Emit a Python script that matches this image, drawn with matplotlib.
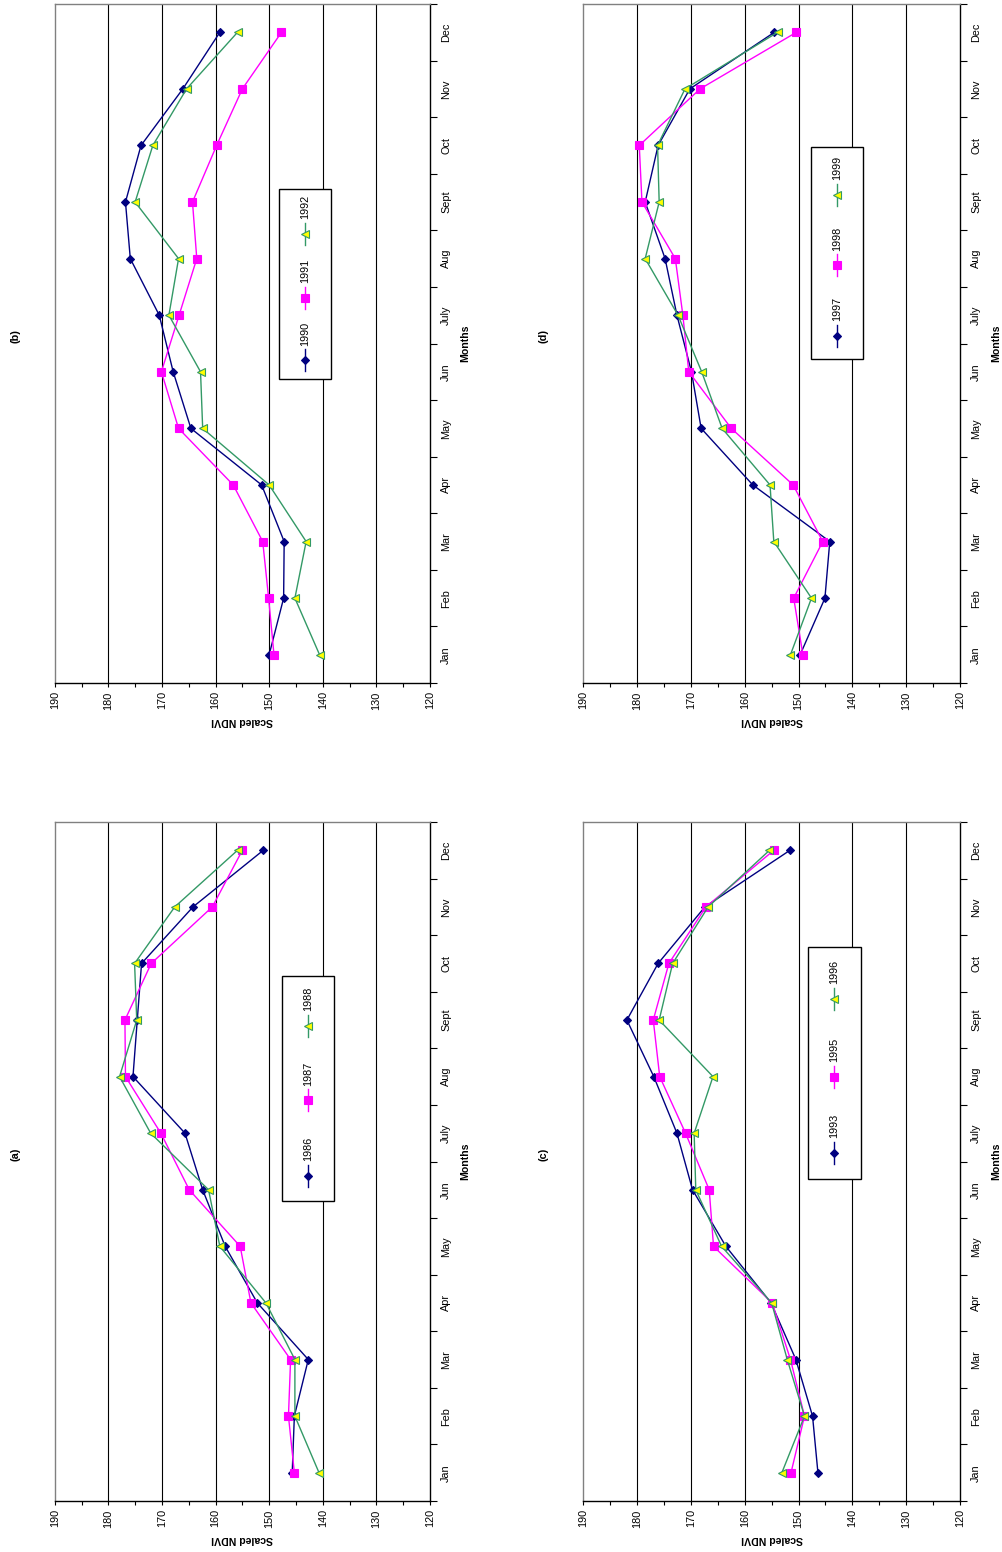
import matplotlib
matplotlib.use('Agg')
import matplotlib.pyplot as plt
from matplotlib.patches import Rectangle
from matplotlib.lines import Line2D

plt.rcParams['font.family'] = ['Liberation Sans', 'DejaVu Sans']

months = ['Jan', 'Feb', 'Mar', 'Apr', 'May', 'Jun', 'July', 'Aug', 'Sept', 'Oct', 'Nov', 'Dec']

# monthly scaled NDVI, Jan..Dec
ndvi_1986 = [145.7, 145.3, 142.7, 152.2, 158.2, 162.4, 165.7, 175.4, 174.6, 173.8, 164.2, 151.1]
ndvi_1987 = [145.3, 146.4, 146.0, 153.4, 155.4, 164.9, 170.2, 176.8, 176.9, 172.0, 160.6, 155.0]
ndvi_1988 = [140.7, 145.2, 145.2, 150.6, 159.2, 161.3, 172.1, 177.9, 174.7, 175.1, 167.6, 155.9]

ndvi_1990 = [150.0, 147.3, 147.2, 151.4, 164.6, 167.9, 170.5, 175.9, 176.8, 173.9, 166.1, 159.2]
ndvi_1991 = [149.1, 150.1, 151.2, 156.7, 166.9, 170.1, 166.8, 163.5, 164.3, 159.8, 155.0, 147.7]
ndvi_1992 = [140.6, 145.2, 143.1, 150.0, 162.4, 162.8, 168.7, 166.9, 175.0, 171.7, 165.4, 155.9]

ndvi_1993 = [146.4, 147.4, 150.5, 155.1, 163.5, 169.7, 172.6, 176.9, 181.9, 176.1, 167.4, 151.6]
ndvi_1995 = [151.4, 148.9, 151.5, 154.9, 165.8, 166.6, 171.0, 175.8, 177.0, 174.1, 167.2, 154.6]
ndvi_1996 = [153.1, 148.9, 152.1, 155.0, 164.3, 169.1, 169.4, 165.9, 175.9, 173.4, 166.8, 155.4]

ndvi_1997 = [149.7, 145.1, 144.2, 158.5, 168.1, 169.9, 172.6, 174.8, 178.5, 176.1, 170.2, 154.5]
ndvi_1998 = [149.2, 150.9, 145.5, 151.0, 162.5, 170.4, 171.5, 172.9, 179.1, 179.6, 168.3, 150.4]
ndvi_1999 = [151.5, 147.6, 154.6, 155.3, 164.2, 168.0, 172.4, 178.5, 175.9, 176.2, 171.1, 153.9]

# line colour, marker, marker face, marker size for the 1st/2nd/3rd year of a panel
styles = [
    ('#000080', 'D', '#000080', 3.6),
    ('#FF00FF', 's', '#FF00FF', 5.2),
    ('#339966', '<', '#FFFF00', 6.0),
]

FS = 7.8
W, H = 1002, 1552


def draw_panel(rect, title, years, series, legend_box, legend_y):
    ax = fig.add_axes(rect)
    pos = list(range(len(months)))

    for v in range(130, 190, 10):
        ax.axvline(v, color='black', lw=0.8, zorder=1)

    for (color, marker, face, ms), vals in zip(styles, series):
        ax.plot(vals, pos, color=color, lw=1.0, marker=marker, markersize=ms,
                markerfacecolor=face, markeredgecolor=color, markeredgewidth=0.8,
                zorder=3)

    ax.set_xlim(190, 120)
    ax.set_ylim(-0.5, 11.5)
    ax.set_xticks(range(120, 191, 10))
    ax.set_xticks(range(120, 191, 5), minor=True)
    ax.tick_params(axis='x', which='both', direction='out', length=3, width=0.8,
                   pad=3, labelsize=FS, labelrotation=90)

    ax.yaxis.tick_right()
    ax.set_yticks(pos)
    ax.set_yticklabels(months)
    ax.set_yticks([p - 0.5 for p in pos] + [11.5], minor=True)
    ax.tick_params(axis='y', which='major', length=0, pad=8, labelsize=FS)
    ax.tick_params(axis='y', which='minor', direction='out', length=5, width=0.8)
    for lab in ax.get_yticklabels():
        lab.set_rotation(90)
        lab.set_va('center')

    for side in ('left', 'top'):
        ax.spines[side].set_color('#808080')
        ax.spines[side].set_linewidth(1.0)
    for side in ('right', 'bottom'):
        ax.spines[side].set_color('black')
        ax.spines[side].set_linewidth(1.0)

    ax.text(1.095, 0.5, 'Months', transform=ax.transAxes, rotation=90,
            ha='center', va='center', fontsize=7.6, fontweight='bold')
    ax.text(0.5, -0.056, 'Scaled NDVI', transform=ax.transAxes, rotation=180,
            ha='center', va='center', fontsize=7.6, fontweight='bold')
    ax.text(-0.105, 0.511, title, transform=ax.transAxes, rotation=90,
            ha='center', va='center', fontsize=7.8, fontweight='bold')

    # legend, laid out along the month axis
    x0, y0, w, h = legend_box
    ax.add_patch(Rectangle((x0, y0), w, h, transform=ax.transAxes,
                           facecolor='white', edgecolor='black', lw=1.0,
                           zorder=4))
    xc = x0 + w / 2
    seg = 11 / (rect[3] * H)
    txt = 27 / (rect[3] * H)
    for (color, marker, face, ms), year, ym in zip(styles, years, legend_y):
        ax.add_line(Line2D([xc, xc], [ym - seg, ym + seg], transform=ax.transAxes,
                           color=color, lw=1.0, marker=None, zorder=5))
        ax.add_line(Line2D([xc], [ym], transform=ax.transAxes, color=color,
                           marker=marker, markersize=ms, markerfacecolor=face,
                           markeredgecolor=color, markeredgewidth=0.8, zorder=6))
        ax.text(xc, ym + txt, year, transform=ax.transAxes, rotation=90,
                ha='center', va='center', fontsize=FS, zorder=6)
    return ax


fig = plt.figure(figsize=(W / 100, H / 100), dpi=100)

left_x, left_w = 54.7 / W, 375.3 / W
right_x, right_w = 583.3 / W, 376.7 / W
top_y, bot_y, ph = 1 - 683 / H, 1 - 1501 / H, 679 / H

draw_panel([left_x, top_y, left_w, ph], '(b)', ['1990', '1991', '1992'],
           [ndvi_1990, ndvi_1991, ndvi_1992],
           (0.598, 0.448, 0.138, 0.28), [0.475, 0.567, 0.661])
draw_panel([right_x, top_y, right_w, ph], '(d)', ['1997', '1998', '1999'],
           [ndvi_1997, ndvi_1998, ndvi_1999],
           (0.605, 0.477, 0.138, 0.313), [0.511, 0.615, 0.719])
draw_panel([left_x, bot_y, left_w, ph], '(a)', ['1986', '1987', '1988'],
           [ndvi_1986, ndvi_1987, ndvi_1988],
           (0.606, 0.442, 0.138, 0.331), [0.479, 0.590, 0.700])
draw_panel([right_x, bot_y, right_w, ph], '(c)', ['1993', '1995', '1996'],
           [ndvi_1993, ndvi_1995, ndvi_1996],
           (0.597, 0.474, 0.139, 0.342), [0.512, 0.625, 0.739])

fig.savefig('out.png', dpi=100)
